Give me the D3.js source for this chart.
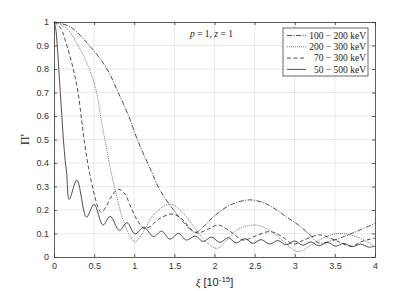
<!DOCTYPE html>
<html>
<head>
<meta charset="utf-8">
<script src="https://cdn.jsdelivr.net/npm/d3@7"></script>
<style>
  body { margin: 0; background: #fff; }
  .tick text { font-family: "Liberation Sans", Arial, sans-serif; font-size: 9px; fill: #333; }
</style>
</head>
<body>
<div id="chart"></div>
<script>
var width = 415,
    height = 291;

var margin = {top: 22, right: 40, bottom: 34, left: 54};
var w = width - margin.left - margin.right,
    h = height - margin.top - margin.bottom;

// [xi, value]
var s100_200 = [[0,1],[0.2,0.98],[0.44,0.9],[0.66,0.8],[0.8,0.7],[0.93,0.6],[1.05,0.49],[1.2,0.375],
  [1.32,0.285],[1.49,0.2],[1.62,0.145],[1.76,0.105],[1.88,0.135],[2.0,0.175],[2.2,0.222],[2.44,0.243],
  [2.65,0.225],[2.9,0.17],[3.05,0.135],[3.17,0.1],[3.3,0.06],[3.45,0.068],[3.62,0.088],[3.8,0.113],[4.0,0.143]];

var s200_300 = [[0,1],[0.15,0.975],[0.3,0.9],[0.44,0.8],[0.53,0.7],[0.59,0.58],[0.635,0.5],[0.7,0.38],
  [0.78,0.26],[0.84,0.18],[0.93,0.1],[1.01,0.065],[1.1,0.1],[1.24,0.179],[1.445,0.225],[1.6,0.19],
  [1.74,0.13],[1.88,0.07],[2.03,0.037],[2.15,0.07],[2.28,0.115],[2.5,0.136],[2.68,0.115],[2.85,0.07],
  [3.04,0.023],[3.2,0.05],[3.4,0.088],[3.58,0.1],[3.8,0.082],[4.0,0.045]];

var s70_300 = [[0,1],[0.08,0.975],[0.16,0.9],[0.24,0.8],[0.3,0.7],[0.345,0.58],[0.375,0.5],[0.43,0.38],
  [0.5,0.27],[0.55,0.21],[0.59,0.19],[0.65,0.215],[0.72,0.26],[0.8,0.288],[0.88,0.27],[0.96,0.21],
  [1.04,0.155],[1.12,0.122],[1.2,0.13],[1.3,0.16],[1.47,0.183],[1.6,0.16],[1.7,0.12],[1.78,0.102],
  [1.9,0.115],[2.05,0.136],[2.2,0.108],[2.36,0.072],[2.5,0.088],[2.69,0.108],[2.85,0.085],[2.98,0.055],
  [3.1,0.07],[3.31,0.094],[3.5,0.072],[3.7,0.046],[3.85,0.068],[4.0,0.08]];

var s50_500 = [[0,1],[0.02,0.975],[0.04,0.9],[0.06,0.8],[0.078,0.7],[0.098,0.6],[0.117,0.5],[0.14,0.41],
  [0.158,0.356],[0.19,0.245],[0.285,0.327],[0.405,0.17],[0.5,0.224],[0.61,0.136],[0.7,0.173],
  [0.815,0.113],[0.91,0.146],[1.01,0.098],[1.12,0.127],[1.24,0.087],[1.34,0.11],[1.445,0.076],
  [1.55,0.1],[1.65,0.072],[1.76,0.089],[1.86,0.066],[1.96,0.085],[2.07,0.062],[2.17,0.082],[2.27,0.06],
  [2.38,0.078],[2.48,0.058],[2.58,0.074],[2.69,0.055],[2.79,0.07],[2.89,0.052],[3.0,0.068],[3.1,0.05],
  [3.2,0.064],[3.3,0.048],[3.41,0.062],[3.51,0.046],[3.61,0.058],[3.72,0.044],[3.82,0.055],[3.92,0.042],
  [4.0,0.046]];

var labels = ["100 \u2212 200 keV", "200 \u2212 300 keV", "70 \u2212 300 keV", "50 \u2212 500 keV"];
var dashes = ["5,1.5,1,1.5", "1,1", "4,2.5", null];
var xTicks = [0, 0.5, 1, 1.5, 2, 2.5, 3, 3.5, 4];
var yTicks = [0, 0.1, 0.2, 0.3, 0.4, 0.5, 0.6, 0.7, 0.8, 0.9, 1];

var series = [s100_200, s200_300, s70_300, s50_500];

var svg = d3.select("#chart").append("svg")
    .attr("width", width)
    .attr("height", height);

var g = svg.append("g")
    .attr("transform", "translate(" + margin.left + "," + margin.top + ")");

var x = d3.scaleLinear().domain([0, 4]).range([0, w]);
var y = d3.scaleLinear().domain([0, 1]).range([h, 0]);

// grid
g.append("g").selectAll("line").data(xTicks.slice(1, -1)).enter().append("line")
    .attr("x1", function(d) { return x(d); }).attr("x2", function(d) { return x(d); })
    .attr("y1", 0).attr("y2", h)
    .style("stroke", "#e3e3e3").style("stroke-width", 0.8);
g.append("g").selectAll("line").data(yTicks.slice(1, -1)).enter().append("line")
    .attr("y1", function(d) { return y(d); }).attr("y2", function(d) { return y(d); })
    .attr("x1", 0).attr("x2", w)
    .style("stroke", "#e3e3e3").style("stroke-width", 0.8);

var line = d3.line()
    .x(function(d) { return x(d[0]); })
    .y(function(d) { return y(d[1]); })
    .curve(d3.curveCatmullRom.alpha(0.5));

series.forEach(function(s, i) {
  g.append("path")
    .datum(s)
    .attr("d", line)
    .style("fill", "none")
    .style("stroke", i == 1 ? "#555" : "#222")
    .style("stroke-width", 0.8)
    .style("stroke-dasharray", dashes[i]);
});

// axes, ticks inside
function styleAxis(sel) {
  sel.select(".domain").style("stroke", "#333").style("stroke-width", 0.8);
  sel.selectAll(".tick line").style("stroke", "#333").style("stroke-width", 0.8);
}
g.append("g").attr("transform", "translate(0," + h + ")")
    .call(d3.axisBottom(x).tickValues(xTicks).tickFormat(d3.format("")).tickSizeInner(-3).tickSizeOuter(0).tickPadding(6))
    .call(styleAxis);
g.append("g")
    .call(d3.axisLeft(y).tickValues(yTicks).tickFormat(d3.format("")).tickSizeInner(-3).tickSizeOuter(0).tickPadding(5))
    .call(styleAxis);
g.append("g")
    .call(d3.axisTop(x).tickValues(xTicks).tickFormat("").tickSizeInner(-3).tickSizeOuter(0))
    .call(styleAxis);
g.append("g").attr("transform", "translate(" + w + ",0)")
    .call(d3.axisRight(y).tickValues(yTicks).tickFormat("").tickSizeInner(-3).tickSizeOuter(0))
    .call(styleAxis);

// axis labels
svg.append("text")
    .attr("transform", "translate(29," + (margin.top + h / 2) + ") rotate(-90)")
    .attr("text-anchor", "middle")
    .style("font-family", "'Liberation Serif', serif")
    .style("font-size", "12px")
    .style("fill", "#222")
    .text("\u03a0'");

var xl = svg.append("text")
    .attr("x", margin.left + w / 2)
    .attr("y", 286)
    .attr("text-anchor", "middle")
    .style("font-family", "'Liberation Sans', Arial, sans-serif")
    .style("font-size", "11px")
    .style("fill", "#222");
xl.append("tspan").style("font-family", "'Liberation Serif', serif").style("font-style", "italic").text("\u03be");
xl.append("tspan").text(" [10");
xl.append("tspan").attr("dy", -4).style("font-size", "8px").text("-15");
xl.append("tspan").attr("dy", 4).text("]");

// annotation
var ann = g.append("text")
    .attr("x", 136).attr("y", 15)
    .style("font-family", "'Liberation Serif', serif")
    .style("font-size", "9.5px")
    .style("fill", "#222");
ann.append("tspan").style("font-style", "italic").text("p");
ann.append("tspan").text(" = 1, ");
ann.append("tspan").style("font-style", "italic").text("z");
ann.append("tspan").text(" = 1");

// legend
var legend = svg.append("g").attr("transform", "translate(283,28)");
legend.append("rect")
    .attr("width", 85).attr("height", 48)
    .style("fill", "#fff").style("stroke", "#444").style("stroke-width", 0.8);
labels.forEach(function(l, i) {
  var ly = 7.5 + i * 11.3;
  legend.append("line")
    .attr("x1", 4).attr("x2", 23).attr("y1", ly).attr("y2", ly)
    .style("stroke", i == 1 ? "#555" : "#222").style("stroke-width", 0.8)
    .style("stroke-dasharray", dashes[i]);
  legend.append("text")
    .attr("x", 83).attr("y", ly + 3.2)
    .attr("text-anchor", "end")
    .style("font-family", "'Liberation Serif', serif")
    .style("font-size", "9.5px")
    .style("fill", "#222")
    .text(l);
});
</script>
</body>
</html>
